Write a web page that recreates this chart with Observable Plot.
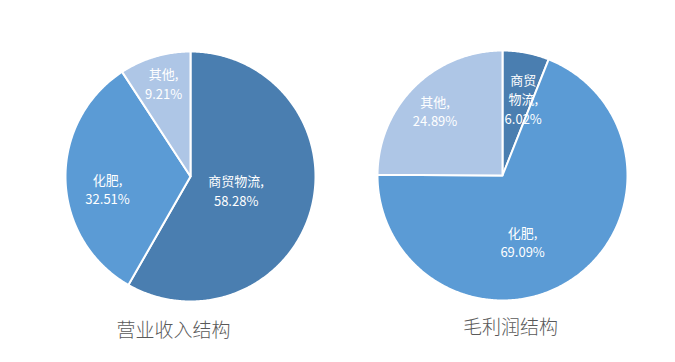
<!DOCTYPE html>
<html>
<head>
<meta charset="utf-8">
<script src="https://cdn.jsdelivr.net/npm/d3@7"></script>
<script src="https://cdn.jsdelivr.net/npm/@observablehq/plot@0.6"></script>
<style>
  html, body { margin: 0; padding: 0; background: #fff; }
  svg { display: block; }
</style>
</head>
<body>
<div id="chart"></div>
<script>
// ---- data ----
const categories = ["商贸物流", "化肥", "其他"];
const revenueShare = [58.28, 32.51, 9.21];   // 营业收入结构
const profitShare  = [6.02, 69.09, 24.89];   // 毛利润结构
const pieTitles = ["营业收入结构", "毛利润结构"];
const labelTexts = [
  ["商贸物流,\n58.28%", "化肥,\n32.51%", "其他,\n9.21%"],
  ["商贸\n物流,\n6.02%", "化肥,\n69.09%", "其他,\n24.89%"]
];

// ---- layout ----
const W = 675, H = 362;
const colors = ["#4a7eb0", "#5b9bd5", "#aec6e6"];
const pies = [
  {values: revenueShare, cx: 190, cy: 176, r: 125, title: pieTitles[0], tx: 173, ty: 330,
   labelAngle: [106, 262, 344], labelR: [0.38, 0.67, 0.78]},
  {values: profitShare, cx: 502, cy: 175, r: 125, title: pieTitles[1], tx: 510, ty: 327,
   labelAngle: [15, 163, 314], labelR: [0.64, 0.55, 0.75]}
];

const slicePts = [];
const labels = [];
const titles = [];
pies.forEach((p, pi) => {
  const arcs = d3.pie().sort(null)(p.values);
  arcs.forEach((a, i) => {
    const key = pi + "-" + i;
    slicePts.push({key, color: colors[i], x: p.cx, y: p.cy});
    const n = Math.max(2, Math.ceil((a.endAngle - a.startAngle) / 0.01));
    for (let k = 0; k <= n; k++) {
      const t = a.startAngle + (a.endAngle - a.startAngle) * k / n;
      slicePts.push({key, color: colors[i], x: p.cx + p.r * Math.sin(t), y: p.cy - p.r * Math.cos(t)});
    }
    const th = p.labelAngle[i] * Math.PI / 180;
    labels.push({text: labelTexts[pi][i], x: p.cx + p.labelR[i] * p.r * Math.sin(th), y: p.cy - p.labelR[i] * p.r * Math.cos(th)});
  });
  titles.push({text: p.title, x: p.tx, y: p.ty});
});

const chart = Plot.plot({
  width: W, height: H,
  margin: 0,
  x: {domain: [0, W], range: [0, W], axis: null},
  y: {domain: [0, H], range: [0, H], axis: null},
  style: {fontFamily: "'Noto Sans CJK SC', 'Noto Sans', sans-serif", background: "#fff"},
  marks: [
    Plot.line(slicePts, {x: "x", y: "y", z: "key", fill: "color", stroke: "white", strokeWidth: 2,
      strokeLinejoin: "round", curve: "linear-closed"}),
    Plot.text(labels, {x: "x", y: "y", text: "text", fill: "white", fontSize: 13, lineHeight: 1.5}),
    Plot.text(titles, {x: "x", y: "y", text: "text", fill: "#595959", fontSize: 19, fontWeight: 300})
  ]
});
document.getElementById("chart").appendChild(chart);
</script>
</body>
</html>
